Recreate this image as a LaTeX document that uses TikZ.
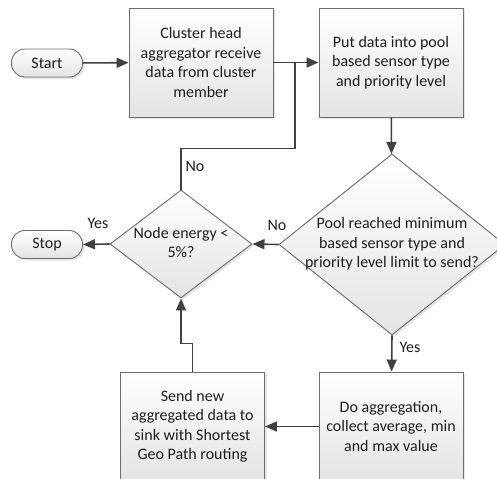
\documentclass[tikz,border=0pt]{standalone}
\usepackage{fontspec}
\setmainfont{Carlito}
\usepackage{xcolor}
\usepackage{tikz}
\usetikzlibrary{arrows.meta,positioning,shapes.geometric,shadows}
\definecolor{flow_line}{RGB}{64,64,64}
\definecolor{flow_edge}{RGB}{110,110,110}
\definecolor{flow_text}{RGB}{30,30,30}
\definecolor{flow_fill}{RGB}{228,228,228}

\newcommand{\squeezed}[2]{\makebox[#1]{\begin{tabular}{@{}c@{}}#2\end{tabular}}}

\tikzset{
  basebox/.style={draw=flow_edge, line width=0.7pt, text=flow_text,
    top color=white, bottom color=flow_fill, align=center,
    drop shadow={shadow xshift=1.5pt, shadow yshift=-1.5pt, fill=gray!35, opacity=0.6}},
  procbox/.style={basebox, rectangle, minimum width=108pt, minimum height=81.75pt, inner sep=0pt},
  decision/.style={basebox, diamond, inner sep=0pt},
  terminal/.style={basebox, rectangle, rounded corners=10pt,
    minimum width=53.25pt, minimum height=21pt, inner sep=0pt},
  flowline/.style={draw=flow_line, line width=1.2pt,
    -{Triangle[length=9pt,width=7.5pt]}},
  lbl/.style={text=flow_text, inner sep=1pt}
}

\begin{document}
\begin{tikzpicture}[x=0.75pt, y=-0.75pt, font=\fontsize{12}{14.6}\selectfont]
        \useasboundingbox (0,0) rectangle (497,479);
        \clip (0,0) rectangle (497,479);
        % top row
        \node[terminal] (start) at (47,63) {Start};
        \node[procbox] (receive) at (201,62.5)
          {Cluster head\\aggregator receive\\data from cluster\\member};
        \node[procbox] (pool) at (391,62.5)
          {Put data into pool\\based sensor type\\and priority level};
        % decisions
        \node[decision, minimum width=169.5pt, minimum height=135.75pt]
          (reached) at (392,244.5)
          {\squeezed{90pt}{Pool reached minimum\\based sensor type and\\priority level limit to send?}};
        \node[decision, minimum width=106.5pt, minimum height=81pt]
          (energy) at (181,244) {\squeezed{50pt}{Node energy <\\5\%?}};
        \node[terminal] (stop) at (47,244.5) {Stop};
        % bottom row
        \node[procbox] (aggregate) at (391,426.5)
          {Do aggregation,\\collect average, min\\and max value};
        \node[procbox] (send) at (192.5,426.5)
          {Send new\\aggregated data to\\sink with Shortest\\Geo Path routing};
        \coordinate (join) at (295,63);
        % connectors
        \draw[flowline] (start) -- (receive);
        \draw[flowline] (receive) -- (pool);
        \draw[flowline] (pool) -- (reached);
        \draw[flowline] (reached.west) -- (energy.east);
        \node[lbl] (nolabel) at (277,225) {No};
        \draw[flowline] (reached.south) -- (aggregate);
        \node[lbl] (yeslabel) at (410,347) {Yes};
        \draw[flowline] (aggregate) -- (send);
        \draw[flowline] (send.north) -- ++(0,-28) -| (energy.south);
        \draw[draw=flow_line, line width=1.2pt] (energy.north) -- ++(0,-41) -| (join);
        \node[lbl] (loopno) at (195,166) {No};
        \draw[flowline] (energy.west) -- (stop.east);
        \node[lbl] (stopyes) at (98,223) {Yes};
      \end{tikzpicture}
\end{document}
